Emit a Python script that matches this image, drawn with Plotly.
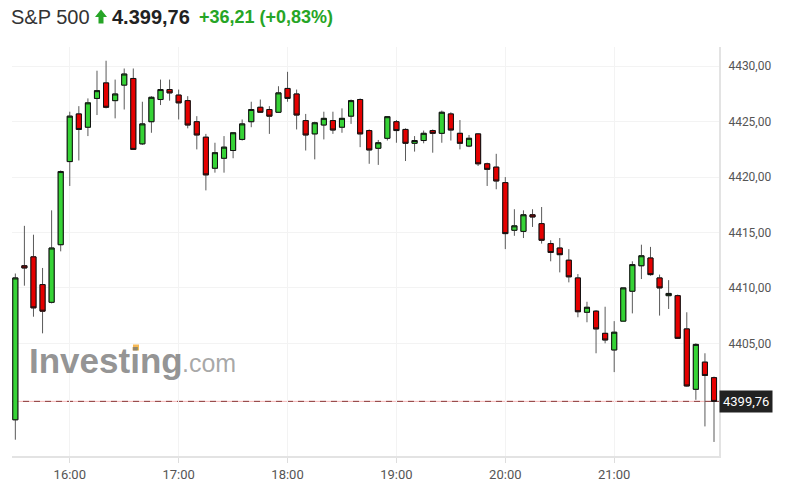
import pandas as pd
import plotly.graph_objects as go

# ---------------- data ----------------
times = pd.date_range("2021-08-24 15:30", periods=78, freq="5min")

open_ = [4398.1, 4412.0, 4412.8, 4410.3, 4408.7, 4413.9, 4421.4, 4425.7, 4424.5, 4427.1,
         4428.5, 4426.9, 4428.3, 4428.9, 4423.0, 4425.0, 4427.0, 4427.9, 4427.4, 4426.9,
         4425.0, 4423.6, 4420.8, 4421.7, 4422.4, 4423.4, 4425.0, 4426.3, 4426.1, 4425.85,
         4428.0, 4427.5, 4425.1, 4423.9, 4424.7, 4425.1, 4424.5, 4425.5, 4427.0, 4424.2,
         4422.6, 4423.5, 4425.0, 4424.3, 4423.05, 4423.3, 4424.2, 4423.95, 4425.7, 4423.95,
         4422.8, 4423.9, 4421.2, 4420.9, 4419.5, 4415.2, 4415.1, 4416.6, 4415.8, 4414.0,
         4413.6, 4412.5, 4410.9, 4407.8, 4407.9, 4405.9, 4404.4, 4407.0, 4409.7, 4412.0,
         4412.7, 4410.9, 4409.3, 4409.3, 4406.3, 4400.85, 4403.3, 4401.9]

high = [4411.3, 4415.6, 4414.8, 4411.8, 4417.0, 4420.6, 4425.9, 4426.4, 4427.1, 4429.6,
        4430.5, 4428.8, 4429.8, 4429.8, 4426.8, 4427.3, 4428.8, 4428.8, 4427.9, 4427.3,
        4425.5, 4423.9, 4423.1, 4423.7, 4424.0, 4425.2, 4426.8, 4427.0, 4426.4, 4428.2,
        4429.5, 4427.9, 4425.7, 4425.0, 4425.9, 4425.9, 4426.2, 4427.0, 4427.1, 4424.3,
        4423.35, 4425.5, 4425.15, 4424.4, 4423.7, 4424.2, 4424.3, 4426.0, 4425.85, 4425.15,
        4423.8, 4423.95, 4421.3, 4422.1, 4420.0, 4417.1, 4417.0, 4417.1, 4417.3, 4414.3,
        4414.5, 4413.5, 4411.25, 4408.75, 4408.0, 4408.3, 4407.0, 4410.0, 4412.4, 4413.9,
        4413.7, 4411.2, 4410.7, 4409.4, 4407.8, 4405.0, 4404.1, 4402.0]

low = [4396.3, 4410.2, 4407.4, 4405.9, 4408.6, 4413.3, 4419.2, 4421.5, 4423.7, 4425.6,
       4426.2, 4425.3, 4426.1, 4422.5, 4422.9, 4424.0, 4426.5, 4426.9, 4425.2, 4424.4,
       4422.5, 4418.8, 4420.4, 4420.4, 4421.7, 4423.3, 4424.5, 4425.8, 4423.9, 4425.8,
       4426.8, 4424.3, 4422.4, 4421.6, 4423.4, 4423.9, 4424.0, 4424.8, 4422.7, 4421.2,
       4421.1, 4423.3, 4423.1, 4421.45, 4422.3, 4423.05, 4422.2, 4423.1, 4423.3, 4422.5,
       4422.7, 4421.0, 4419.2, 4418.9, 4413.5, 4414.7, 4414.5, 4415.5, 4414.0, 4412.4,
       4411.4, 4410.5, 4407.35, 4406.9, 4404.1, 4405.0, 4402.4, 4407.0, 4407.7, 4410.8,
       4411.1, 4407.5, 4408.1, 4405.4, 4401.1, 4399.9, 4397.5, 4396.1]

close = [4410.9, 4411.8, 4408.2, 4407.9, 4413.6, 4420.5, 4425.5, 4424.3, 4426.7, 4427.8,
         4426.3, 4427.5, 4429.3, 4422.5, 4424.8, 4427.2, 4427.9, 4427.6, 4426.7, 4424.7,
         4423.8, 4420.2, 4422.2, 4422.7, 4424.0, 4424.8, 4426.1, 4425.85, 4425.5, 4427.6,
         4427.1, 4425.6, 4423.8, 4424.9, 4425.3, 4424.25, 4425.3, 4426.9, 4423.9, 4422.45,
         4423.1, 4425.45, 4424.2, 4423.05, 4423.3, 4423.95, 4423.95, 4425.85, 4424.25, 4423.05,
         4423.5, 4421.2, 4420.7, 4419.65, 4414.9, 4415.6, 4416.6, 4416.4, 4414.3, 4413.2,
         4413.0, 4411.0, 4407.85, 4408.25, 4406.3, 4405.3, 4406.0, 4410.0, 4412.1, 4412.9,
         4411.2, 4410.0, 4409.5, 4405.45, 4401.15, 4404.9, 4402.1, 4399.76]

last_price = 4399.76
y_ticks = [4405, 4410, 4415, 4420, 4425, 4430]
x_ticks = ["16:00", "17:00", "18:00", "19:00", "20:00", "21:00"]
title_name = "S&P 500"
title_price = "4.399,76"
title_change = "+36,21 (+0,83%)"
last_label = "4399,76"

# ---------------- style ----------------
GREEN = "#36d336"
RED = "#e50000"
W, H = 787, 496
L, R, T, B = 12, 719, 47, 456          # plot area in pixels


def px(x):
    return (x - L) / (R - L)


def py(y):
    return (B - y) / (B - T)


body_hi = [max(o, c) for o, c in zip(open_, close)]
body_lo = [min(o, c) for o, c in zip(open_, close)]

fig = go.Figure()
# wicks (grey)
fig.add_trace(go.Candlestick(
    x=times, open=open_, high=high, low=low, close=close,
    increasing=dict(line=dict(color="#5a5a5a", width=1), fillcolor=GREEN),
    decreasing=dict(line=dict(color="#5a5a5a", width=1), fillcolor=RED),
    whiskerwidth=0, hoverinfo="skip", showlegend=False))
# bodies with dark outline
fig.add_trace(go.Candlestick(
    x=times, open=open_, high=body_hi, low=body_lo, close=close,
    increasing=dict(line=dict(color="#111111", width=1), fillcolor=GREEN),
    decreasing=dict(line=dict(color="#111111", width=1), fillcolor=RED),
    whiskerwidth=0, hoverinfo="skip", showlegend=False))

t0 = times[0] - pd.Timedelta(seconds=110)
t1 = times[-1] + pd.Timedelta(seconds=165)
tick_dates = [pd.Timestamp("2021-08-24 " + t) for t in x_ticks]

fig.update_layout(
    width=W, height=H,
    margin=dict(l=L, r=W - R, t=T, b=H - B),
    paper_bgcolor="white", plot_bgcolor="white",
    separators=",.",
    showlegend=False,
    boxgap=0.2,
    font=dict(family="Roboto, Arial, sans-serif", color="#555555"),
    xaxis=dict(
        type="date", range=[t0, t1],
        tickvals=tick_dates, ticktext=x_ticks,
        ticks="outside", ticklen=5, tickcolor="#dddddd",
        tickfont=dict(size=13, color="#555555"),
        showgrid=True, gridcolor="#f3f3f3", gridwidth=1,
        showline=True, linecolor="#e3e3e3", linewidth=2,
        rangeslider=dict(visible=False), zeroline=False,
    ),
    yaxis=dict(
        side="right", range=[4394.83, 4431.74],
        tickvals=y_ticks, tickformat=".2f",
        ticks="outside", ticklen=5, tickcolor="rgba(0,0,0,0)",
        tickfont=dict(size=12, color="#555555"),
        showgrid=True, gridcolor="#f3f3f3", gridwidth=1,
        showline=True, linecolor="#e3e3e3", linewidth=2,
        zeroline=False,
    ),
)

# last price line: pink solid + dark dashed
fig.add_shape(type="line", xref="paper", yref="y", x0=0, x1=1,
              y0=last_price, y1=last_price, line=dict(color="#f5b5b5", width=1), layer="below")
fig.add_shape(type="line", xref="paper", yref="y", x0=0, x1=1,
              y0=last_price, y1=last_price,
              line=dict(color="#8a3c3c", width=1, dash="6px,5px"), layer="below")

fig.add_annotation(xref="paper", yref="y", x=px(R), y=last_price,
                   xanchor="left", yanchor="middle", showarrow=False,
                   text=last_label, bgcolor="#222222", borderpad=3,
                   font=dict(size=13, color="white", family="Roboto, Arial, sans-serif"))

# watermark
fig.add_annotation(xref="paper", yref="paper", x=px(27), y=py(360),
                   xanchor="left", yanchor="middle", showarrow=False,
                   text="<b>Investing</b>",
                   font=dict(size=35, color="rgba(120,120,120,0.8)", family="Liberation Sans, Arial"))
fig.add_annotation(xref="paper", yref="paper", x=px(180), y=py(363),
                   xanchor="left", yanchor="middle", showarrow=False,
                   text=".com",
                   font=dict(size=25, color="rgba(140,140,140,0.75)", family="Liberation Sans, Arial"))
fig.add_shape(type="rect", xref="paper", yref="paper",
              x0=px(133), x1=px(139), y0=py(350.5), y1=py(344.5),
              fillcolor="#f7b955", line=dict(width=0))

# title
fig.add_annotation(xref="paper", yref="paper", x=px(9), y=py(17),
                   xanchor="left", yanchor="middle", showarrow=False,
                   text=title_name,
                   font=dict(size=20, color="#333333", family="Liberation Sans, Arial"))
fig.add_shape(type="path", xref="paper", yref="paper",
              path=("M {0},{1} L {2},{3} L {4},{3} Z M {5},{3} L {6},{3} L {6},{7} L {5},{7} Z"
                    .format(px(101), py(9.5), px(95), py(17), px(107), px(98.5), px(103.5), py(23.5))),
              fillcolor="#26a526", line=dict(width=0))
fig.add_annotation(xref="paper", yref="paper", x=px(110), y=py(17),
                   xanchor="left", yanchor="middle", showarrow=False,
                   text="<b>" + title_price + "</b>",
                   font=dict(size=20, color="#222222", family="Liberation Sans, Arial"))
fig.add_annotation(xref="paper", yref="paper", x=px(197), y=py(17),
                   xanchor="left", yanchor="middle", showarrow=False,
                   text="<b>" + title_change + "</b>",
                   font=dict(size=18, color="#26a526", family="Liberation Sans, Arial"))

fig.write_html("out.html", config={"displayModeBar": False},
               post_script="document.body.style.margin='0';")
